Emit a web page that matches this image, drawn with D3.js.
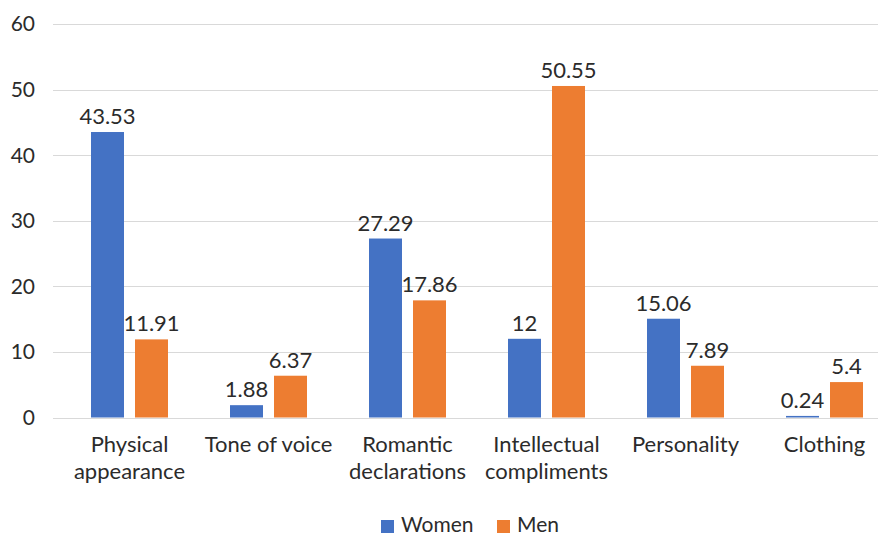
<!DOCTYPE html>
<html><head><meta charset="utf-8">
<script src="https://cdn.jsdelivr.net/npm/d3@7/dist/d3.min.js"></script>
<style>body{margin:0;background:#fff}svg{display:block}text{font-family:Lato,"Open Sans",sans-serif;fill:#2b2b2b}</style>
</head><body>
<script>
const categories = [["Physical","appearance"],["Tone of voice"],["Romantic","declarations"],["Intellectual","compliments"],["Personality"],["Clothing"]];
const women = [43.53, 1.88, 27.29, 12, 15.06, 0.24];
const men = [11.91, 6.37, 17.86, 50.55, 7.89, 5.4];
const seriesNames = ["Women","Men"];
const colors = ["#4472C4","#ED7D31"];
const yTicks = [0,10,20,30,40,50,60];

const W=878,H=536;
const svg=d3.select("body").append("svg").attr("width",W).attr("height",H);
const y=d3.scaleLinear().domain([0,60]).range([417.5,24]);
const x0=d3.scaleBand().domain(d3.range(categories.length)).range([60,894]);
const x1=d3.scaleBand().domain([0,1]).range([x0.bandwidth()/2-38.5,x0.bandwidth()/2+38.5]).paddingInner(0.25);
const FS=21, FC=22;

// gridlines
svg.append("g").selectAll("line").data(yTicks).join("line")
 .attr("x1",53).attr("x2",878).attr("y1",d=>Math.round(y(d))+0.5).attr("y2",d=>Math.round(y(d))+0.5)
 .attr("stroke","#D9D9D9").attr("stroke-width",1);
svg.append("g").selectAll("text").data(yTicks).join("text")
 .attr("x",35).attr("y",d=>y(d)).attr("dy","0.35em").attr("text-anchor","end")
 .attr("font-size",FS).text(d=>d);

const series=[women,men];
series.forEach((vals,s)=>{
 const g=svg.append("g");
 g.selectAll("rect").data(vals).join("rect")
  .attr("x",(d,i)=>x0(i)+x1(s)).attr("width",x1.bandwidth())
  .attr("y",d=>y(d)).attr("height",d=>y(0)-y(d)).attr("fill",colors[s]);
 g.selectAll("text").data(vals).join("text")
  .attr("x",(d,i)=>x0(i)+x1(s)+x1.bandwidth()/2).attr("y",d=>y(d)-8)
  .attr("text-anchor","middle").attr("font-size",FC).text(d=>d);
});

// category labels
const cl=svg.append("g");
categories.forEach((lines,i)=>{
 const t=cl.append("text").attr("text-anchor","middle").attr("font-size",FC);
 lines.forEach((ln,j)=>t.append("tspan").attr("x",x0(i)+x0.bandwidth()/2).attr("y",452+j*27).text(ln));
});

// legend
const lg=svg.append("g");
const lx=[381,497];
seriesNames.forEach((n,s)=>{
 lg.append("rect").attr("x",lx[s]).attr("y",520).attr("width",13).attr("height",13).attr("fill",colors[s]);
 lg.append("text").attr("x",lx[s]+20).attr("y",532).attr("font-size",FS).text(n);
});
</script>
</body></html>
